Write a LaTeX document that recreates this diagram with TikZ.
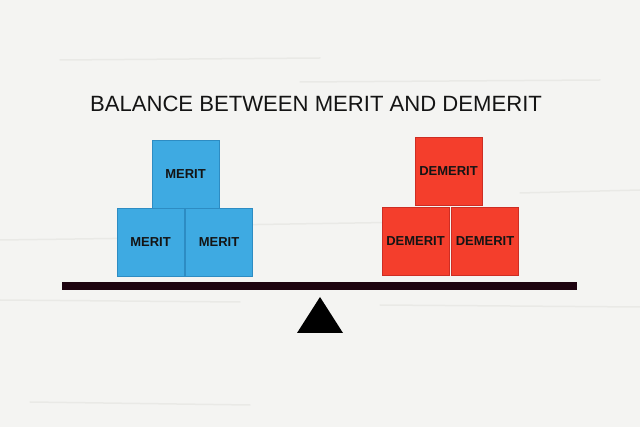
\documentclass[tikz,border=0pt]{standalone}
\usepackage{fontspec}
\setmainfont{Liberation Sans}
\begin{document}
\begin{tikzpicture}[x=1pt,y=-1pt,
  grain/.style={draw=graincol,line width=1.5pt,line cap=round,opacity=0.35},
  bluebox/.style={draw=blueedge,line width=0.6pt,fill=blockblue,minimum width=67pt,minimum height=68pt,inner sep=0pt,
    font=\fontsize{13}{15}\selectfont\bfseries,text=labelcol},
  redbox/.style={draw=rededge,line width=0.6pt,fill=blockred,minimum width=67pt,minimum height=68pt,inner sep=0pt,
    font=\fontsize{13}{15}\selectfont\bfseries,text=labelcol},
  beamstyle/.style={draw=beamcol,line width=8pt},
  fulcrum/.style={fill=black,draw=none}]
\definecolor{bgcol}{RGB}{244,244,242}
\definecolor{graincol}{RGB}{215,215,210}
\definecolor{blockblue}{RGB}{62,170,226}
\definecolor{blueedge}{RGB}{45,140,195}
\definecolor{blockred}{RGB}{244,62,44}
\definecolor{rededge}{RGB}{205,45,35}
\definecolor{labelcol}{RGB}{20,20,20}
\definecolor{beamcol}{RGB}{30,4,16}
\useasboundingbox (0,0) rectangle (640,427);
\fill[bgcol] (0,0) rectangle (640,427);
% faint wood grain
\draw[grain] (0,240) -- (150,238);
\draw[grain] (225,225) -- (420,222);
\draw[grain] (30,440) -- (250,448);
\draw[grain] (60,60) -- (320,58);
\draw[grain] (300,82) -- (600,80);
\draw[grain] (0,300) -- (240,302);
\draw[grain] (380,305) -- (640,307);
\draw[grain] (520,193) -- (640,190);
\draw[grain] (30,402) -- (250,405);
% title
\node[font=\fontsize{22.1}{25}\selectfont,text=labelcol,inner sep=0pt] (title) at (316,104) {BALANCE BETWEEN MERIT AND DEMERIT};
% blue blocks
\node[bluebox] (m1) at (185.5,174) {MERIT};
\node[bluebox] (m2) at (150.5,242.5) {MERIT};
\node[bluebox] (m3) at (219,242.5) {MERIT};
% red blocks
\node[redbox] (d1) at (448.5,171) {DEMERIT};
\node[redbox] (d2) at (415.5,241) {DEMERIT};
\node[redbox] (d3) at (485,241) {DEMERIT};
% beam and fulcrum
\coordinate (bl) at (62,286);
\coordinate (br) at (577,286);
\draw[beamstyle] (bl) -- (br);
\coordinate (apex) at (320,297);
\coordinate (baseL) at (297,333);
\coordinate (baseR) at (343,333);
\fill[fulcrum] (apex) -- (baseR) -- (baseL) -- cycle;
\end{tikzpicture}
\end{document}
